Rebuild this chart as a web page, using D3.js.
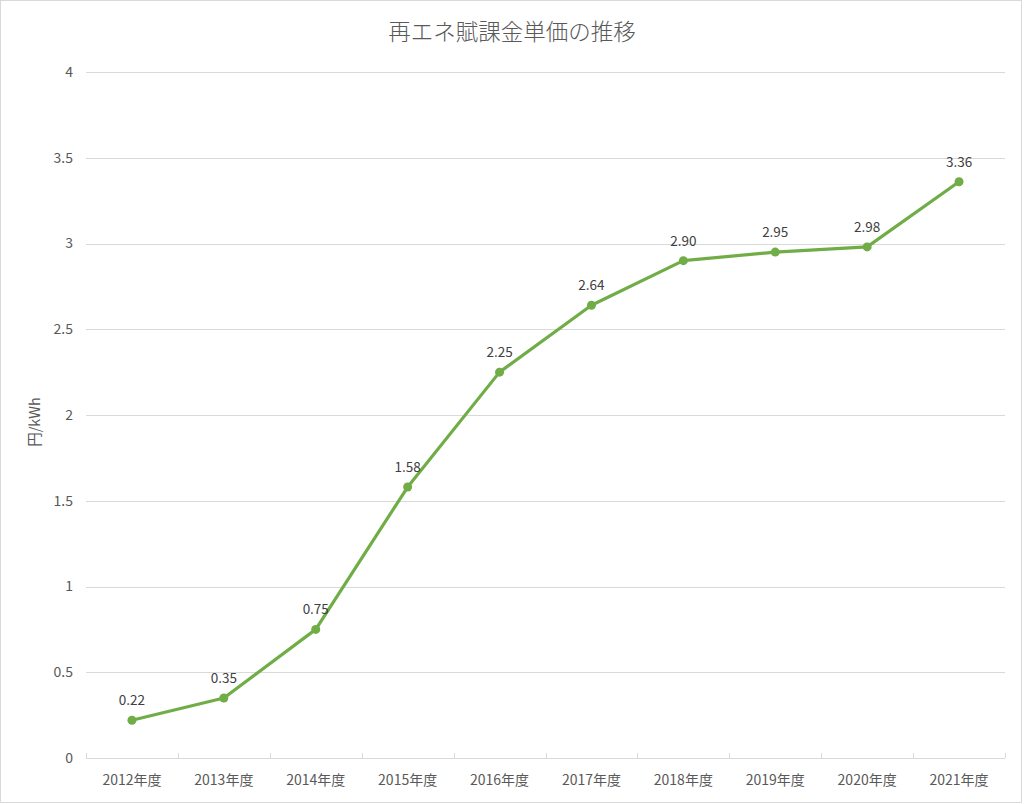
<!DOCTYPE html>
<html><head><meta charset="utf-8">
<script src="https://cdn.jsdelivr.net/npm/d3@7"></script>
<style>
html,body{margin:0;padding:0;background:#fff;}
svg{display:block;}
</style></head>
<body>
<svg id="c" width="1024" height="804"></svg>
<script>
const categories = ["2012年度","2013年度","2014年度","2015年度","2016年度","2017年度","2018年度","2019年度","2020年度","2021年度"];
const values = [0.22,0.35,0.75,1.58,2.25,2.64,2.90,2.95,2.98,3.36];
const labels = ["0.22","0.35","0.75","1.58","2.25","2.64","2.90","2.95","2.98","3.36"];
const yTicks = [0,0.5,1,1.5,2,2.5,3,3.5,4];
const title = "再エネ賦課金単価の推移";
const yTitle = "円/kWh";

const svg = d3.select("#c");
const font = "'Noto Sans CJK JP','Open Sans',sans-serif";
const txt = "#595959";
const pLeft = 86, pRight = 1005, pTop = 72, pBottom = 758;

svg.append("rect").attr("x",0.5).attr("y",0.5).attr("width",1021).attr("height",802)
  .attr("fill","#fff").attr("stroke","#d9d9d9").attr("stroke-width",1);

const x = d3.scaleBand().domain(categories).range([pLeft,pRight]);
const y = d3.scaleLinear().domain([0,4]).range([pBottom,pTop]);

// gridlines
svg.append("g").selectAll("line").data(yTicks.filter(d=>d>0)).join("line")
  .attr("x1",pLeft).attr("x2",pRight)
  .attr("y1",d=>Math.round(y(d))+0.5).attr("y2",d=>Math.round(y(d))+0.5)
  .attr("stroke","#d9d9d9").attr("stroke-width",1);

// y tick labels
svg.append("g").selectAll("text").data(yTicks).join("text")
  .attr("x",73).attr("y",d=>y(d)).attr("dy","0.35em")
  .attr("text-anchor","end").attr("font-family",font).attr("font-size",14)
  .attr("fill",txt).text(d=>d);

// x axis line
svg.append("line").attr("x1",pLeft).attr("x2",pRight).attr("y1",pBottom+0.5).attr("y2",pBottom+0.5)
  .attr("stroke","#d9d9d9");
// tick marks
const tickPos = categories.map(c=>x(c)).concat([x(categories[categories.length-1])+x.bandwidth()]);
svg.append("g").selectAll("line").data(tickPos).join("line")
  .attr("x1",d=>Math.round(d)+0.5).attr("x2",d=>Math.round(d)+0.5)
  .attr("y1",pBottom-5).attr("y2",pBottom)
  .attr("stroke","#d9d9d9");

// x labels
svg.append("g").selectAll("text").data(categories).join("text")
  .attr("x",d=>x(d)+x.bandwidth()/2).attr("y",785)
  .attr("text-anchor","middle").attr("font-family",font).attr("font-size",14)
  .attr("fill",txt).text(d=>d);

// line
const line = d3.line().x((d,i)=>x(categories[i])+x.bandwidth()/2).y(d=>y(d));
svg.append("path").datum(values).attr("d",line).attr("fill","none")
  .attr("stroke","#70ad47").attr("stroke-width",3.2).attr("stroke-linejoin","round").attr("stroke-linecap","round");

svg.append("g").selectAll("circle").data(values).join("circle")
  .attr("cx",(d,i)=>x(categories[i])+x.bandwidth()/2).attr("cy",d=>y(d)).attr("r",4.5)
  .attr("fill","#70ad47");

// data labels
svg.append("g").selectAll("text").data(values).join("text")
  .attr("x",(d,i)=>x(categories[i])+x.bandwidth()/2).attr("y",d=>y(d)-15)
  .attr("text-anchor","middle").attr("font-family",font).attr("font-size",13.5)
  .attr("fill","#404040").text((d,i)=>labels[i]);

// title
svg.append("text").attr("x",512).attr("y",40).attr("text-anchor","middle")
  .attr("font-family",font).attr("font-size",22.5).attr("fill",txt).attr("font-weight",300).text(title);

// y title
svg.append("text").attr("transform","translate(40,422) rotate(-90)").attr("text-anchor","middle")
  .attr("font-family",font).attr("font-size",14.5).attr("fill",txt).text(yTitle);
</script>
</body></html>
